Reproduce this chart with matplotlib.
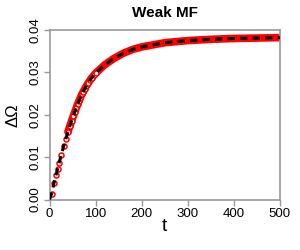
import matplotlib
matplotlib.use("Agg")
import matplotlib.pyplot as plt
import numpy as np

plt.rcParams["font.family"] = ["Liberation Sans", "DejaVu Sans"]

# curve
t_curve = [0, 5, 10, 20, 30, 40, 50, 60, 70, 80, 90, 100, 120, 140, 160, 180,
           200, 250, 300, 350, 400, 450, 500]
dw_curve = [0, 0.0016, 0.0040, 0.0083, 0.0123, 0.0160, 0.0192, 0.0222, 0.0248,
            0.0268, 0.0285, 0.0298, 0.0318, 0.0333, 0.0345, 0.0354, 0.0360,
            0.0370, 0.0375, 0.0378, 0.0380, 0.0381, 0.0382]

# sampled points (open red markers)
t_pts = [5, 10, 14, 18, 21, 26, 31, 35, 40, 44, 48, 52, 55, 58, 61, 64, 67,
         70, 73, 76, 80, 84, 88, 92, 96, 100]
dw_pts = [0.0014, 0.0040, 0.0057, 0.0072, 0.0086, 0.0106, 0.0127, 0.0143,
          0.0160, 0.0173, 0.0185, 0.0197, 0.0207, 0.0216, 0.0225, 0.0233,
          0.0240, 0.0248, 0.0254, 0.0260, 0.0268, 0.0275, 0.0282, 0.0287,
          0.0293, 0.0298]

xticks = [0, 100, 200, 300, 400, 500]
yticks = [0.00, 0.01, 0.02, 0.03, 0.04]

fig = plt.figure(figsize=(3, 2.5), dpi=100)
ax = fig.add_axes([0.165, 0.202, 0.768, 0.678])

t_arr = np.array(t_curve)
dw_arr = np.array(dw_curve)
band = t_arr >= 40
ax.plot(t_arr[band], dw_arr[band], color="red", lw=5.5, solid_capstyle="round",
        zorder=2)
ax.plot(t_pts, dw_pts, ls="none", marker="o", ms=3.6, mfc="white",
        mec="red", mew=1.1, zorder=3)
ax.plot(t_curve, dw_curve, color="black", lw=2.2, ls=(0, (2.4, 1.7)),
        zorder=4)

ax.set_xlim(0, 500)
ax.set_ylim(0, 0.04)
ax.set_xticks(xticks)
ax.set_yticks(yticks)
ax.set_yticklabels([f"{v:.2f}" for v in yticks], rotation=90, va="center")
ax.tick_params(axis="both", direction="out", length=4, width=1,
               color="#999999", labelsize=9.5, pad=2)
for s in ax.spines.values():
    s.set_color("#999999")
    s.set_linewidth(1.2)

ax.set_title("Weak MF", fontsize=11, fontweight="bold", pad=9.5)
ax.set_xlabel("t", fontsize=14, labelpad=-1)
ax.set_ylabel("ΔΩ", fontsize=12, labelpad=6.5)

fig.savefig("out.png", dpi=100)
